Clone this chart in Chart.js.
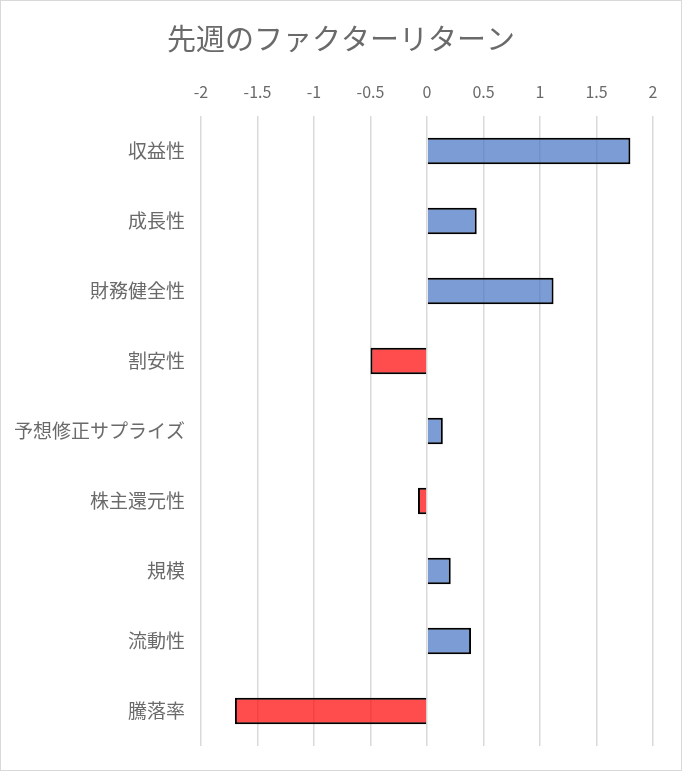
<!DOCTYPE html>
<html>
<head>
<meta charset="utf-8">
<script src="https://cdn.jsdelivr.net/npm/chart.js@4"></script>
<style>
  body { margin: 0; background: #fff; }
  #wrap { width: 680px; height: 769px; border: 1px solid #d9d9d9; }
</style>
</head>
<body>
<div id="wrap"><canvas id="chartFactor" width="680" height="769"></canvas></div>
<script>
  const factors = ['収益性', '成長性', '財務健全性', '割安性', '予想修正サプライズ',
    '株主還元性', '規模', '流動性', '騰落率'];
  const returns = [1.8, 0.44, 1.12, -0.5, 0.14, -0.08, 0.21, 0.39, -1.7];
  const xTicks = [-2, -1.5, -1, -0.5, 0, 0.5, 1, 1.5, 2];

  const FONT = '"Noto Sans CJK JP", "Noto Sans", sans-serif';
  const GREY = '#6a6a6a';

  const ctx = document.getElementById('chartFactor');
  new Chart(ctx, {
    type: 'bar',
    data: {
      labels: factors,
      datasets: [{
        data: returns,
        backgroundColor: c => c.raw < 0 ? 'rgba(255,0,0,0.7)' : 'rgba(68,114,196,0.7)',
        borderColor: 'black',
        borderWidth: 2,
        categoryPercentage: 1,
        barPercentage: 0.38
      }]
    },
    options: {
      indexAxis: 'y',
      responsive: false,
      animation: false,
      layout: { padding: 0 },
      plugins: {
        legend: { display: false },
        tooltip: { enabled: false },
        title: {
          display: true,
          text: '先週のファクターリターン',
          color: GREY,
          font: { family: FONT, size: 29, weight: 'normal' },
          padding: { top: 21, bottom: 12 }
        }
      },
      scales: {
        x: {
          position: 'top',
          min: -2,
          max: 2,
          afterBuildTicks: s => { s.ticks = xTicks.map(v => ({ value: v })); },
          // right margin through the scale, so the title stays centred on the page
          afterFit: s => { s.paddingRight = 28; },
          ticks: {
            color: GREY,
            padding: 14,
            font: { family: FONT, size: 16 },
            callback: v => String(v)
          },
          grid: { color: '#d9d9d9', lineWidth: 1.5, drawTicks: false },
          border: { display: false }
        },
        y: {
          afterFit: s => { s.width = 200; s.paddingBottom = 24; },
          ticks: {
            color: GREY,
            padding: 16,
            font: { family: FONT, size: 19 }
          },
          grid: { display: false, drawTicks: false },
          border: { display: false }
        }
      }
    }
  });
</script>
</body>
</html>
